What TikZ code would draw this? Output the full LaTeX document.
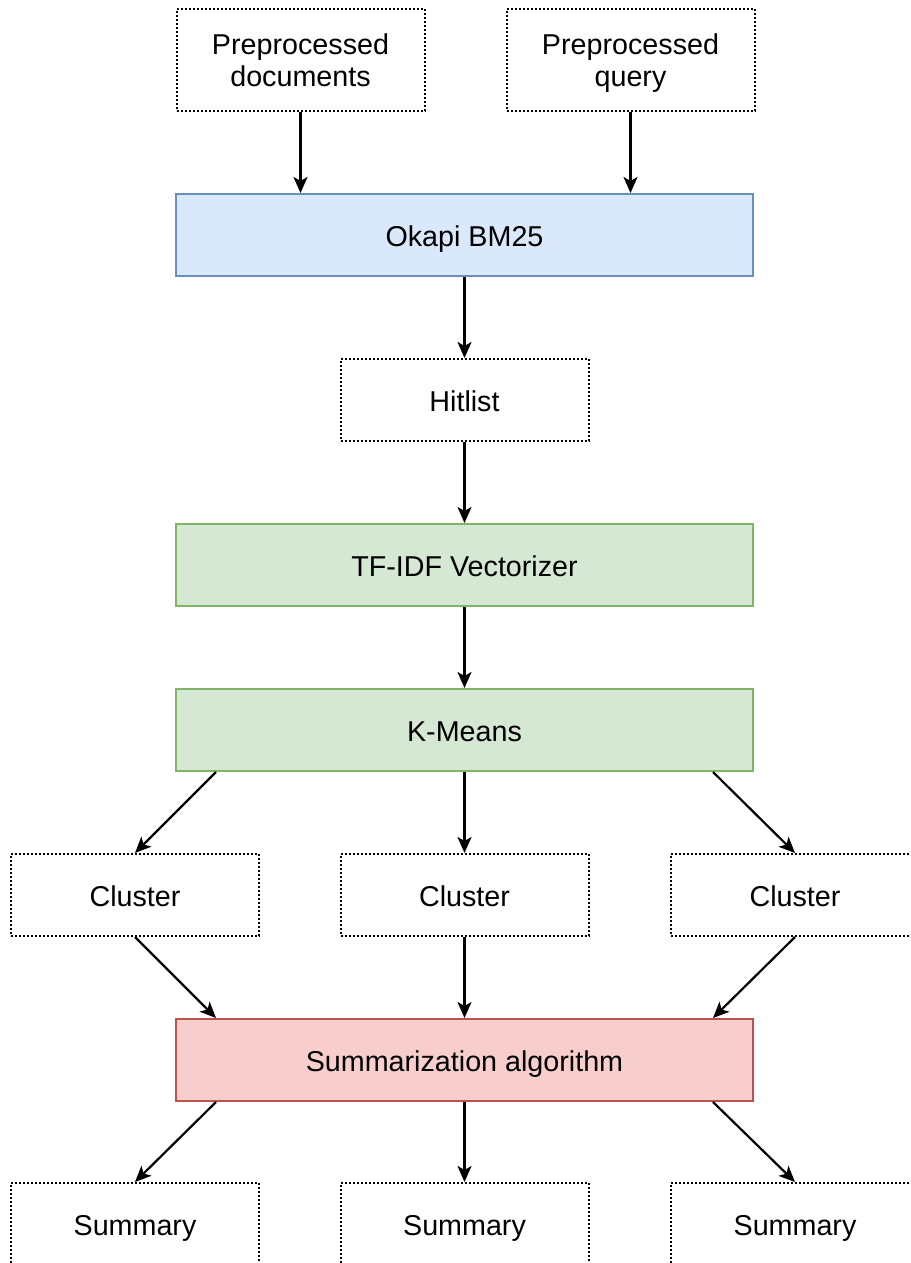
\documentclass[tikz,border=0pt]{standalone}
\usepackage{fontspec}
\setmainfont{Liberation Sans}
\usetikzlibrary{arrows.meta,calc}
\definecolor{bluefill}{HTML}{DAE8FC}
\definecolor{blueline}{HTML}{6C8EBF}
\definecolor{greenfill}{HTML}{D5E8D4}
\definecolor{greenline}{HTML}{82B366}
\definecolor{redfill}{HTML}{F8CECC}
\definecolor{redline}{HTML}{B85450}
\newcommand{\twolines}[2]{\rule{0pt}{27pt}#1\\#2\rule[-6pt]{0pt}{6pt}}
\begin{document}
\begin{tikzpicture}[x=1pt,y=-1pt,
  every node/.style={font=\fontsize{28.7}{32.4}\selectfont, align=center, inner sep=0pt},
  oneline/.style={text height=29pt, text depth=6pt},
  plainbox/.style={draw=black, line width=2pt, dash pattern=on 2pt off 2pt, fill=white, minimum width=248pt, minimum height=82pt},
  tallbox/.style={plainbox, minimum height=102pt},
  widebox/.style={line width=2pt, minimum width=577pt, minimum height=82pt, oneline},
  bluebox/.style={widebox, draw=blueline, fill=bluefill},
  greenbox/.style={widebox, draw=greenline, fill=greenfill},
  redbox/.style={widebox, draw=redline, fill=redfill},
  smallbox/.style={plainbox, oneline},
  arr/.style={line width=2.2pt, -{Stealth[length=16pt,width=14pt,inset=4pt]}}
]
\useasboundingbox (0,0) rectangle (910,1263);
\clip (0,0) rectangle (910,1263);

\node[tallbox] (docs) at (300.5,60) {\twolines{Preprocessed}{documents}};
\node[tallbox] (query) at (630.5,60) {\twolines{Preprocessed}{query}};
\node[bluebox] (okapi) at (464.5,235) {Okapi BM25};
\node[smallbox] (hit) at (464.5,400) {Hitlist};
\node[greenbox] (tfidf) at (464.5,565) {TF-IDF Vectorizer};
\node[greenbox] (km) at (464.5,730) {K-Means};
\node[smallbox] (c1) at (135,895) {Cluster};
\node[smallbox] (c2) at (464.5,895) {Cluster};
\node[smallbox] (c3) at (795,895) {Cluster};
\node[redbox] (sum) at (464.5,1060) {Summarization algorithm};
\node[smallbox] (s1) at (135,1224) {Summary};
\node[smallbox] (s2) at (464.5,1224) {Summary};
\node[smallbox] (s3) at (795,1224) {Summary};

\draw[arr] (docs.south) -- (docs.south |- okapi.north);
\draw[arr] (query.south) -- (query.south |- okapi.north);
\draw[arr] (okapi.south) -- (hit.north);
\draw[arr] (hit.south) -- (tfidf.north);
\draw[arr] (tfidf.south) -- (km.north);

\draw[arr] ($(km.south west)+(41,0)$) -- (c1.north);
\draw[arr] (km.south) -- (c2.north);
\draw[arr] ($(km.south east)+(-41,0)$) -- (c3.north);

\draw[arr] (c1.south) -- ($(sum.north west)+(41,0)$);
\draw[arr] (c2.south) -- (sum.north);
\draw[arr] (c3.south) -- ($(sum.north east)+(-41,0)$);

\draw[arr] ($(sum.south west)+(41,0)$) -- (s1.north);
\draw[arr] (sum.south) -- (s2.north);
\draw[arr] ($(sum.south east)+(-41,0)$) -- (s3.north);
\end{tikzpicture}
\end{document}
